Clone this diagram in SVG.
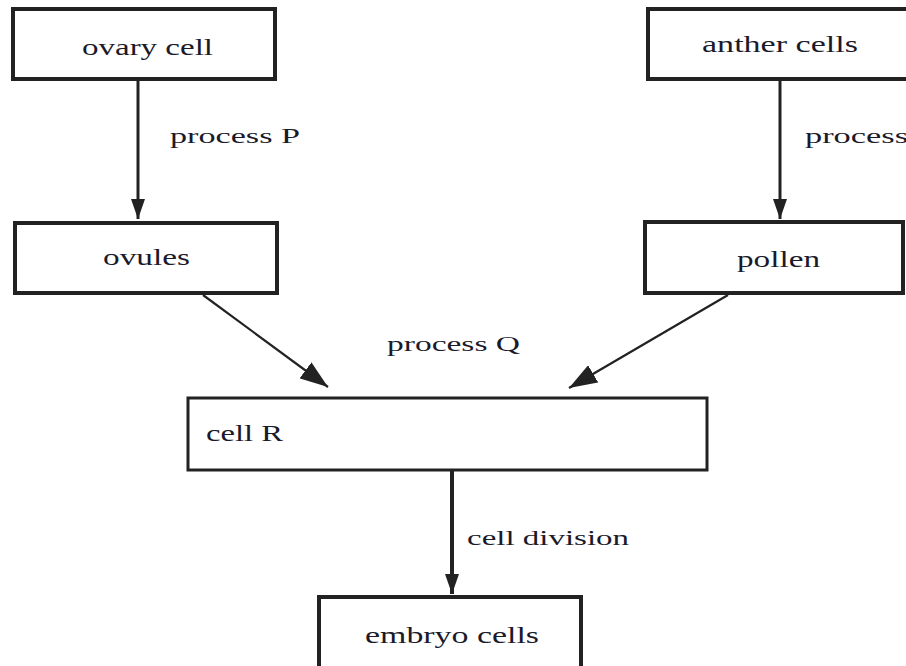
<svg xmlns="http://www.w3.org/2000/svg" width="906" height="666" viewBox="0 0 906 666">
<style>
.box{fill:#fff;stroke:#222;stroke-width:4}
.thin{stroke-width:3}
.t{font-family:"Liberation Serif","Times New Roman",serif;font-size:20px;fill:#1a1a2a}
.n{font-size:24px}
.c{stroke:#222;fill:none}
</style>
<defs>
<marker id="ah" viewBox="0 0 20 14" refX="20" refY="7" markerWidth="20" markerHeight="14" markerUnits="userSpaceOnUse" orient="auto">
<path d="M0,0 L20,7 L0,14 Z" fill="#222"/>
</marker>
<marker id="ahd" viewBox="0 0 28 20" refX="28" refY="10" markerWidth="28" markerHeight="20" markerUnits="userSpaceOnUse" orient="auto">
<path d="M0,0 L28,10 L0,20 Z" fill="#222"/>
</marker>
</defs>
<rect width="906" height="666" fill="#fff"/>
<g id="connectors">
<line class="c" x1="138" y1="81" x2="138" y2="219" stroke-width="3" marker-end="url(#ah)"/>
<line class="c" x1="780" y1="81" x2="780" y2="219" stroke-width="3" marker-end="url(#ah)"/>
<line class="c" x1="203" y1="295" x2="328" y2="387" stroke-width="2.2" marker-end="url(#ahd)"/>
<line class="c" x1="728" y1="295" x2="569" y2="388" stroke-width="2.2" marker-end="url(#ahd)"/>
<line class="c" x1="452" y1="471" x2="452" y2="594" stroke-width="4" marker-end="url(#ah)"/>
<text class="t" x="170" y="143" textLength="130" lengthAdjust="spacingAndGlyphs">process P</text>
<text class="t" x="805" y="143" textLength="103" lengthAdjust="spacingAndGlyphs">process</text>
<text class="t" x="387" y="351" textLength="133" lengthAdjust="spacingAndGlyphs">process Q</text>
<text class="t" x="467" y="545" textLength="162" lengthAdjust="spacingAndGlyphs">cell division</text>
</g>
<g id="ovary">
<rect class="box" x="13" y="9" width="262" height="70"/>
<text class="t n" x="82" y="55" textLength="131" lengthAdjust="spacingAndGlyphs">ovary cell</text>
</g>
<g id="anther">
<path class="box" d="M920,9 H648 V79 H920"/>
<text class="t n" x="702" y="52" textLength="156" lengthAdjust="spacingAndGlyphs">anther cells</text>
</g>
<g id="ovules">
<rect class="box" x="15" y="223" width="262" height="70"/>
<text class="t n" x="103" y="265" textLength="87" lengthAdjust="spacingAndGlyphs">ovules</text>
</g>
<g id="pollen">
<rect class="box" x="645" y="222" width="258" height="71"/>
<text class="t n" x="737" y="267" textLength="83" lengthAdjust="spacingAndGlyphs">pollen</text>
</g>
<g id="cellR">
<rect class="box thin" x="188" y="398" width="519" height="72"/>
<text class="t n" x="206" y="441" textLength="77" lengthAdjust="spacingAndGlyphs">cell R</text>
</g>
<g id="embryo">
<path class="box" d="M319,680 V597 H581 V680"/>
<text class="t n" x="365" y="643" textLength="174" lengthAdjust="spacingAndGlyphs">embryo cells</text>
</g>
</svg>
